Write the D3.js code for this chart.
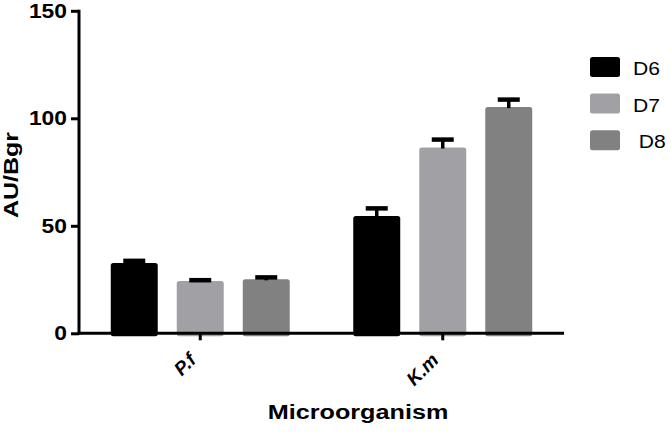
<!DOCTYPE html>
<html lang="en">
<head>
<meta charset="UTF-8">
<title>AU/Bgr by microorganism</title>
<style>
  body { margin: 0; background: #fff; }
  text { font-family: "Liberation Sans", Arial, sans-serif; }
</style>
</head>
<body>
<script src="https://cdn.jsdelivr.net/npm/d3@7/dist/d3.min.js"></script>
<script>
    // values
    const organisms = ["P.f", "K.m"];
    const days = ["D6", "D7", "D8"];
    const dayLabels = ["D6", "D7", " D8"];
    const meanD6 = [32.7, 54.6];
    const meanD7 = [24.3, 86.4];
    const meanD8 = [25.1, 105.2];
    const errD6 = [1.0, 3.5];
    const errD7 = [0.4, 3.7];
    const errD8 = [0.9, 3.5];
    const yTicks = [0, 50, 100, 150];
    const colors = ["#000000", "#a1a1a5", "#818181"];

    const means = [meanD6, meanD7, meanD8];
    const errs = [errD6, errD7, errD8];
    const data = [];
    organisms.forEach((o, i) => {
        days.forEach((d, j) => {
            data.push({org: o, day: d, value: means[j][i], err: errs[j][i]});
        });
    });

    const W = 671, H = 433;
    const svg = d3.select("body").append("svg")
        .attr("width", W)
        .attr("height", H);

    const x = d3.scaleBand().domain(organisms).range([79, 564]).paddingInner(0).paddingOuter(0);
    const xDay = d3.scaleBand().domain(days).range([-99, 99]).paddingInner(0.288).paddingOuter(0.144);
    const y = d3.scaleLinear().domain([0, 150]).range([333.3, 10.8]);
    const color = d3.scaleOrdinal().domain(days).range(colors);

    // stretch text a bit wider, the source font is wider than Arial
    function stretch(sel, k) {
        sel.each(function () {
            const len = this.getComputedTextLength();
            d3.select(this).attr("textLength", len * k).attr("lengthAdjust", "spacingAndGlyphs");
        });
    }

    // bars
    const groups = svg.append("g").selectAll("g")
        .data(organisms)
        .join("g")
        .attr("transform", d => `translate(${x(d) + x.bandwidth() / 2},0)`);

    groups.selectAll("rect")
        .data(o => data.filter(d => d.org === o))
        .join("rect")
        .attr("x", d => xDay(d.day))
        .attr("y", d => y(d.value))
        .attr("width", xDay.bandwidth())
        .attr("height", d => y(0) - y(d.value) + 3)
        .attr("rx", 2.5)
        .attr("fill", d => color(d.day));

    // error bars (upper only)
    const eb = groups.selectAll("g.err")
        .data(o => data.filter(d => d.org === o))
        .join("g")
        .attr("class", "err");
    eb.append("line")
        .attr("x1", d => xDay(d.day) + xDay.bandwidth() / 2)
        .attr("x2", d => xDay(d.day) + xDay.bandwidth() / 2)
        .attr("y1", d => y(d.value) + 1)
        .attr("y2", d => y(d.value + d.err))
        .attr("stroke", "#000")
        .attr("stroke-width", 3.5);
    eb.append("line")
        .attr("x1", d => xDay(d.day) + xDay.bandwidth() / 2 - 11)
        .attr("x2", d => xDay(d.day) + xDay.bandwidth() / 2 + 11)
        .attr("y1", d => y(d.value + d.err))
        .attr("y2", d => y(d.value + d.err))
        .attr("stroke", "#000")
        .attr("stroke-width", 4.5);

    // y axis
    const yAxis = svg.append("g")
        .attr("transform", "translate(79,0)")
        .call(d3.axisLeft(y).tickValues(yTicks).tickSize(8).tickPadding(4).tickSizeOuter(0));
    yAxis.select(".domain").attr("stroke-width", 3).attr("d", `M0,${y(150) - 1}V${y(0) + 1.5}`);
    yAxis.selectAll(".tick line").attr("stroke-width", 3);
    yAxis.selectAll(".tick text")
        .attr("font-family", "Liberation Sans, Arial, sans-serif")
        .attr("font-size", 19.5)
        .attr("font-weight", "bold")
        .attr("fill", "#000")
        .call(stretch, 1.17);

    // x axis
    const xAxis = svg.append("g")
        .attr("transform", `translate(0,${y(0)})`)
        .call(d3.axisBottom(x).tickSize(7).tickSizeOuter(0));
    xAxis.select(".domain").attr("stroke-width", 3).attr("d", "M77.5,0H564");
    xAxis.selectAll(".tick line").attr("stroke-width", 3);
    xAxis.selectAll(".tick text")
        .attr("font-family", "Liberation Sans, Arial, sans-serif")
        .attr("font-size", 19)
        .attr("font-weight", "bold")
        .attr("font-style", "italic")
        .attr("fill", "#000")
        .attr("text-anchor", "end")
        .attr("y", 0)
        .attr("dy", 0)
        .attr("transform", "translate(-3,28) rotate(-45)");

    // axis titles
    svg.append("text")
        .attr("transform", `translate(18,${(y(0) + y(150)) / 2 + 3}) rotate(-90)`)
        .attr("text-anchor", "middle")
        .attr("font-size", 21)
        .attr("font-weight", "bold")
        .text("AU/Bgr")
        .call(stretch, 1.19);

    svg.append("text")
        .attr("x", 358)
        .attr("y", 419)
        .attr("text-anchor", "middle")
        .attr("font-size", 20)
        .attr("font-weight", "bold")
        .text("Microorganism")
        .call(stretch, 1.26);

    // legend
    const legend = svg.append("g").selectAll("g")
        .data(days)
        .join("g")
        .attr("transform", (d, i) => `translate(590,${57 + i * 36.6})`);
    legend.append("rect")
        .attr("width", 30)
        .attr("height", 20)
        .attr("rx", 2.5)
        .attr("fill", d => color(d));
    legend.append("text")
        .attr("x", 43)
        .attr("y", 18)
        .attr("font-size", 18)
        .style("white-space", "pre")
        .text((d, i) => dayLabels[i])
        .call(stretch, 1.17);
</script>
</body>
</html>
